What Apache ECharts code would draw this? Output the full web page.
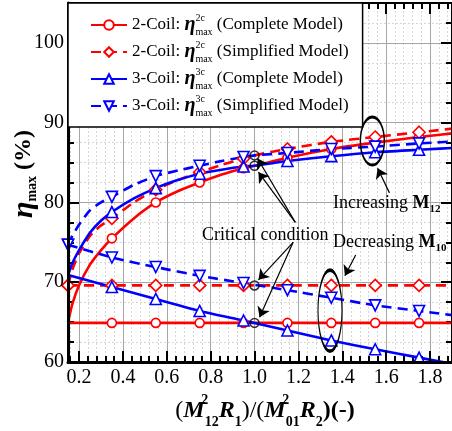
<!DOCTYPE html>
<html>
<head>
<meta charset="utf-8">
<script src="https://cdn.jsdelivr.net/npm/echarts@6/dist/echarts.min.js"></script>
<style>
  html, body { margin: 0; padding: 0; background: #fff; }
  #chart { width: 452px; height: 431px; }
</style>
</head>
<body>
<div id="chart"></div>
<script>
// marker positions (every 0.2 starting at 0.15)
const markX = [0.15, 0.35, 0.55, 0.75, 0.95, 1.15, 1.35, 1.55, 1.75, 1.95];
// upper branches (increasing M12) are sampled more densely near the left edge
const upX = [0.15, 0.17, 0.2, 0.25, 0.3, 0.35, 0.45, 0.55, 0.65, 0.75, 0.85, 0.95, 1.0, 1.15, 1.35, 1.55, 1.75, 1.95];

const c2Up = [65.0, 67.3, 69.6, 72.2, 74.0, 75.5, 78.0, 80.0, 81.4, 82.5, 83.5, 84.3, 84.6, 85.6, 86.7, 87.5, 88.2, 88.8];
const s2Up = [69.6, 71.6, 73.6, 75.8, 77.1, 78.0, 80.0, 81.6, 82.8, 83.8, 84.7, 85.5, 85.9, 86.7, 87.6, 88.2, 88.8, 89.4];
const c3Up = [70.9, 72.4, 74.0, 76.2, 77.7, 78.8, 80.5, 81.8, 82.8, 83.6, 84.1, 84.5, 84.6, 85.2, 85.8, 86.3, 86.6, 86.9];
const s3Up = [74.7, 75.8, 77.2, 79.0, 80.0, 80.7, 82.2, 83.3, 84.0, 84.6, 85.2, 85.7, 85.9, 86.2, 86.7, 87.0, 87.4, 87.7];

// lower branches (decreasing M10), on markX
const c2Low = [64.9, 64.9, 64.9, 64.9, 64.9, 64.9, 64.9, 64.9, 64.9, 64.9];
const s2Low = [69.6, 69.6, 69.6, 69.6, 69.6, 69.6, 69.6, 69.6, 69.6, 69.6];
const c3Low = [70.9, 69.4, 67.9, 66.4, 65.2, 63.95, 62.7, 61.6, 60.55, 59.5];
const s3Low = [74.7, 73.1, 71.9, 70.8, 69.9, 69.0, 68.05, 67.1, 66.4, 65.7];

// critical condition points
const critX = [1.0, 1.0, 1.0, 1.0];
const critY = [85.9, 84.6, 69.6, 64.9];

// annotation arrows (data coords) and ellipses
const arrowFrom = [[1.186, 77.5], [1.186, 77.5], [1.176, 75.0], [1.176, 75.0], [1.615, 81.2], [1.461, 73.4]];
const arrowTo = [[1.014, 85.5], [1.018, 83.8], [1.018, 70.3], [1.023, 65.6], [1.561, 84.3], [1.412, 70.8]];
const ellipseAt = [[1.537, 87.7], [1.344, 66.45]];
const ellipseSize = [[24, 48], [24, 81]];

const legendNames = ['c2', 's2', 'c3', 's3'];
const legendCoil = { c2: '2', s2: '2', c3: '3', s3: '3' };
const legendModel = { c2: 'Complete', s2: 'Simplified', c3: 'Complete', s3: 'Simplified' };

const RED = '#ff0000';
const BLUE = '#0000ff';
const SERIF = 'Liberation Serif';

function pts(xs, ys, edgeMark) {
  return xs.map((x, i) => {
    const isMark = markX.includes(x) && (edgeMark || x !== 0.15);
    return isMark ? [x, ys[i]] : { value: [x, ys[i]], symbol: 'none' };
  });
}

function line(name, data, color, dashed, symbol, rotate, size) {
  return {
    type: 'line',
    name,
    data,
    xAxisIndex: 0,
    yAxisIndex: 0,
    symbol,
    symbolSize: size,
    symbolRotate: rotate,
    showAllSymbol: true,
    smooth: 0.2,
    lineStyle: { color, width: 2.6, type: dashed ? [10, 6] : 'solid' },
    itemStyle: { color: '#fff', borderColor: color, borderWidth: 1.6 },
    z: 3,
  };
}

const chart = echarts.init(document.getElementById('chart'));

const s = 387 / 1.75;
const grids = [
  { left: 68, right: -3, top: 3, bottom: 69 },
  { left: 68 + 0.01 * s, right: -3, top: 3, bottom: 69 },
  { left: 68 + 0.05 * s, right: -3, top: 3, bottom: 69 },
];

const hide = { axisLine: { show: false }, axisTick: { show: false }, axisLabel: { show: false }, splitLine: { show: false } };
const tick = (len, w) => ({ show: true, inside: true, length: len, lineStyle: { color: '#000', width: w } });
const minorGrid = { show: true, lineStyle: { color: '#d6d6d6', width: 1, type: [2, 2] } };
const majorGrid = { show: true, lineStyle: { color: '#a6a6a6', width: 1 } };

const xAxes = [
  // frame + data axis
  { ...hide, gridIndex: 0, type: 'value', position: 'bottom', min: 0.15, max: 1.9, z: 4,
    axisLine: { show: true, lineStyle: { color: '#000', width: 3 } } },
  { ...hide, gridIndex: 0, type: 'value', position: 'top', min: 0.15, max: 1.9, z: 4,
    axisLine: { show: true, lineStyle: { color: '#000', width: 2 } } },
  // minor ticks / dotted grid
  { ...hide, gridIndex: 1, type: 'value', position: 'bottom', min: 0.16, max: 1.9, interval: 0.04, z: 0,
    axisTick: tick(6, 2), splitLine: minorGrid },
  { ...hide, gridIndex: 1, type: 'value', position: 'top', min: 0.16, max: 1.9, interval: 0.04, z: 0,
    axisTick: tick(6, 2) },
  // major ticks + labels
  { ...hide, gridIndex: 2, type: 'value', position: 'bottom', min: 0.2, max: 1.9, interval: 0.2, z: 4,
    axisTick: tick(11, 2),
    axisLabel: { show: true, showMaxLabel: false, margin: 6, color: '#000', fontFamily: SERIF, fontSize: 20,
      formatter: v => v.toFixed(1) } },
  { ...hide, gridIndex: 2, type: 'value', position: 'top', min: 0.2, max: 1.9, interval: 0.2, z: 4,
    axisTick: tick(11, 2) },
  { ...hide, gridIndex: 2, type: 'value', position: 'bottom', min: 0.2, max: 1.9, interval: 0.2, z: 1,
    splitLine: majorGrid },
];

const yAxes = [
  { ...hide, gridIndex: 0, type: 'value', position: 'left', min: 60, max: 105, interval: 10, z: 4,
    axisLine: { show: true, lineStyle: { color: '#000', width: 3 } },
    axisTick: tick(11, 2),
    axisLabel: { show: true, showMaxLabel: false, margin: 4, color: '#000', fontFamily: SERIF, fontSize: 20 } },
  { ...hide, gridIndex: 0, type: 'value', position: 'right', min: 60, max: 105, interval: 10, z: 4,
    axisLine: { show: true, lineStyle: { color: '#000', width: 2 } },
    axisTick: tick(11, 2) },
  { ...hide, gridIndex: 0, type: 'value', position: 'left', min: 60, max: 105, interval: 2.5, z: 0,
    axisTick: tick(6, 2), splitLine: minorGrid },
  { ...hide, gridIndex: 0, type: 'value', position: 'right', min: 60, max: 105, interval: 2.5, z: 0,
    axisTick: tick(6, 2) },
  { ...hide, gridIndex: 0, type: 'value', position: 'left', min: 60, max: 105, interval: 10, z: 1,
    splitLine: majorGrid },
  { gridIndex: 1, type: 'value', min: 60, max: 105, show: false },
  { gridIndex: 2, type: 'value', min: 60, max: 105, show: false },
];

const series = [
  line('c2', pts(upX, c2Up, false), RED, false, 'circle', 0, 9),
  line('c2', pts(markX, c2Low, false), RED, false, 'circle', 0, 9),
  line('s2', pts(upX, s2Up, true), RED, true, 'diamond', 0, 12),
  line('s2', pts(markX, s2Low, true), RED, true, 'diamond', 0, 12),
  line('c3', pts(upX, c3Up, false), BLUE, false, 'triangle', 0, 11),
  line('c3', pts(markX, c3Low, false), BLUE, false, 'triangle', 0, 11),
  line('s3', pts(upX, s3Up, true), BLUE, true, 'triangle', 180, 11),
  line('s3', pts(markX, s3Low, true), BLUE, true, 'triangle', 180, 11),
  {
    type: 'scatter',
    name: 'critical',
    xAxisIndex: 0,
    yAxisIndex: 0,
    data: critX.map((x, i) => [x, critY[i]]),
    symbol: 'circle',
    symbolSize: 9,
    itemStyle: { color: 'rgba(0,0,0,0)', borderColor: '#000', borderWidth: 1.5 },
    z: 4,
    markPoint: {
      silent: true,
      symbol: 'circle',
      label: { show: false },
      itemStyle: { color: 'rgba(0,0,0,0)', borderColor: '#000', borderWidth: 2 },
      data: ellipseAt.map((c, i) => ({ coord: c, symbolSize: ellipseSize[i] })),
    },
    markLine: {
      silent: true,
      symbol: ['none', 'arrow'],
      symbolSize: 10,
      label: { show: false },
      lineStyle: { color: '#000', width: 1.2, type: 'solid' },
      data: arrowFrom.map((f, i) => [{ coord: f }, { coord: arrowTo[i] }]),
    },
  },
];

const legendRich = {
  t: { fontFamily: SERIF, fontSize: 17, color: '#000', lineHeight: 24 },
  eta: { fontFamily: SERIF, fontSize: 20, fontWeight: 'bold', fontStyle: 'italic', color: '#000' },
  sup: { fontFamily: SERIF, fontSize: 10, color: '#000', width: 0, lineHeight: 12, verticalAlign: 'top' },
  sub: { fontFamily: SERIF, fontSize: 10, color: '#000', lineHeight: 12, verticalAlign: 'bottom' },
};

const option = {
  animation: false,
  grid: grids,
  xAxis: xAxes,
  yAxis: yAxes,
  legend: {
    data: legendNames,
    orient: 'vertical',
    left: 68,
    top: 3,
    z: 10,
    padding: [10, 14, 9, 22],
    itemGap: 3,
    itemWidth: 36,
    itemHeight: 12,
    backgroundColor: '#fff',
    borderColor: '#000',
    borderWidth: 1.5,
    selectedMode: false,
    formatter: n => `{t|${legendCoil[n]}-Coil: }{eta|η}{sup|${legendCoil[n]}c}{sub|max}{t| (${legendModel[n]} Model)}`,
    textStyle: { rich: legendRich },
  },
  graphic: [
    {
      type: 'text', x: 24, y: 174, rotation: Math.PI / 2,
      style: {
        text: '{e|η}{s|max}{p| (%)}',
        align: 'center', verticalAlign: 'middle',
        rich: {
          e: { fontFamily: SERIF, fontSize: 30, fontWeight: 'bold', fontStyle: 'italic', fill: '#000', lineHeight: 30 },
          s: { fontFamily: SERIF, fontSize: 14, fontWeight: 'bold', fill: '#000', lineHeight: 14, verticalAlign: 'bottom' },
          p: { fontFamily: SERIF, fontSize: 24, fontWeight: 'bold', fill: '#000', lineHeight: 30 },
        },
      },
    },
    {
      type: 'text', x: 265, y: 411,
      style: {
        text: '{p|(}{m|M}{sup|2}{sub|12}{m|R}{sub|1}{p|)/(}{m|M}{sup|2}{sub|01}{m|R}{sub|2}{q|)(-)}',
        align: 'center', verticalAlign: 'middle',
        rich: {
          p: { fontFamily: SERIF, fontSize: 24, fill: '#000', lineHeight: 36 },
          q: { fontFamily: SERIF, fontSize: 24, fontWeight: 'bold', fill: '#000', lineHeight: 36 },
          m: { fontFamily: SERIF, fontSize: 24, fontWeight: 'bold', fontStyle: 'italic', fill: '#000', lineHeight: 36 },
          sup: { fontFamily: SERIF, fontSize: 14, fontWeight: 'bold', fill: '#000', width: 0, lineHeight: 14, verticalAlign: 'top' },
          sub: { fontFamily: SERIF, fontSize: 14, fontWeight: 'bold', fill: '#000', lineHeight: 14, verticalAlign: 'bottom' },
        },
      },
    },
    {
      type: 'text', x: 202, y: 235, z: 20,
      style: { text: 'Critical condition', fontFamily: SERIF, fontSize: 18, fill: '#000', align: 'left', verticalAlign: 'middle' },
    },
    {
      type: 'text', x: 333, y: 203, z: 20,
      style: {
        text: '{t|Increasing }{m|M}{s|12}', align: 'left', verticalAlign: 'middle',
        rich: {
          t: { fontFamily: SERIF, fontSize: 18, fill: '#000', lineHeight: 24 },
          m: { fontFamily: SERIF, fontSize: 18, fontWeight: 'bold', fill: '#000', lineHeight: 24 },
          s: { fontFamily: SERIF, fontSize: 11, fontWeight: 'bold', fill: '#000', lineHeight: 11, verticalAlign: 'bottom' },
        },
      },
    },
    {
      type: 'text', x: 333, y: 242, z: 20,
      style: {
        text: '{t|Decreasing }{m|M}{s|10}', align: 'left', verticalAlign: 'middle',
        rich: {
          t: { fontFamily: SERIF, fontSize: 18, fill: '#000', lineHeight: 24 },
          m: { fontFamily: SERIF, fontSize: 18, fontWeight: 'bold', fill: '#000', lineHeight: 24 },
          s: { fontFamily: SERIF, fontSize: 11, fontWeight: 'bold', fill: '#000', lineHeight: 11, verticalAlign: 'bottom' },
        },
      },
    },
  ],
  series,
};

chart.setOption(option);
</script>
</body>
</html>
